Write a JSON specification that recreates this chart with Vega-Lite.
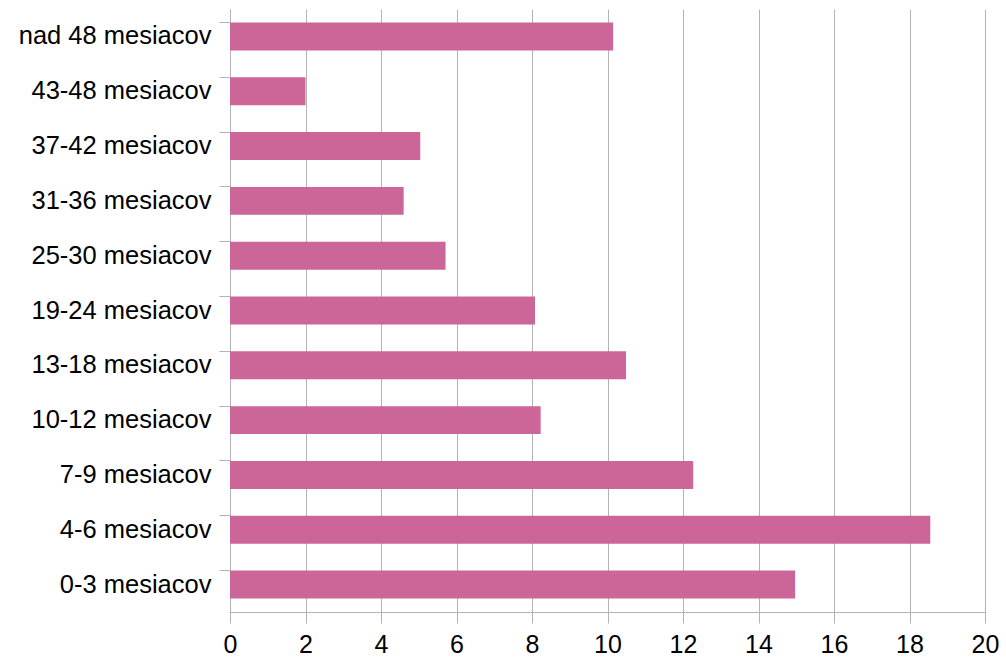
{
  "$schema": "https://vega.github.io/schema/vega-lite/v6.json",
  "autosize": "none",
  "padding": {"left": 230, "top": 9, "right": 21, "bottom": 47},
  "width": 755,
  "height": 603,
  "background": "white",
  "config": {
    "view": {"stroke": null},
    "font": "Liberation Sans"
  },
  "data": {
    "values": [
      {"vek": "nad 48 mesiacov", "hodnota": 10.15},
      {"vek": "43-48 mesiacov", "hodnota": 2.0},
      {"vek": "37-42 mesiacov", "hodnota": 5.04},
      {"vek": "31-36 mesiacov", "hodnota": 4.6},
      {"vek": "25-30 mesiacov", "hodnota": 5.71},
      {"vek": "19-24 mesiacov", "hodnota": 8.08},
      {"vek": "13-18 mesiacov", "hodnota": 10.49},
      {"vek": "10-12 mesiacov", "hodnota": 8.23},
      {"vek": "7-9 mesiacov", "hodnota": 12.27},
      {"vek": "4-6 mesiacov", "hodnota": 18.55},
      {"vek": "0-3 mesiacov", "hodnota": 14.97}
    ]
  },
  "mark": {"type": "bar", "color": "#cc6699"},
  "encoding": {
    "y": {
      "field": "vek",
      "type": "nominal",
      "sort": null,
      "scale": {"paddingInner": 0.49, "paddingOuter": 0.245},
      "axis": {
        "title": null,
        "ticks": true,
        "bandPosition": 0,
        "grid": false,
        "domainColor": "#b3b3b3",
        "tickColor": "#b3b3b3",
        "tickWidth": 1,
        "tickSize": 11,
        "labelFontSize": 25.5,
        "labelLimit": 400,
        "labelColor": "#000000",
        "labelPadding": 8,
        "labelFont": "Liberation Sans"
      }
    },
    "x": {
      "field": "hodnota",
      "type": "quantitative",
      "scale": {"domain": [0, 20], "nice": false},
      "axis": {
        "title": null,
        "ticks": true,
        "values": [0, 2, 4, 6, 8, 10, 12, 14, 16, 18, 20],
        "grid": true,
        "gridColor": "#b3b3b3",
        "domainColor": "#b3b3b3",
        "tickColor": "#b3b3b3",
        "tickWidth": 1,
        "tickSize": 11,
        "labelFlush": false,
        "labelFontSize": 25,
        "labelColor": "#000000",
        "labelPadding": 9,
        "labelFont": "Liberation Sans"
      }
    }
  }
}
